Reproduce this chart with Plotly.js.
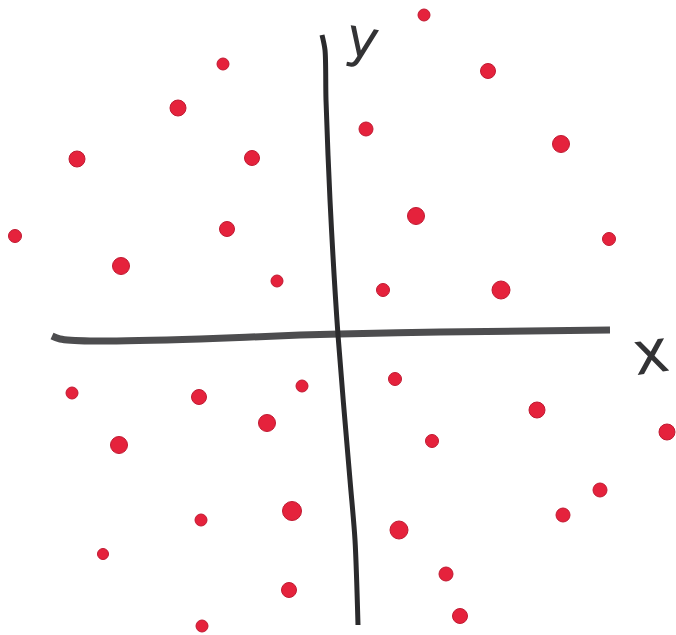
<!DOCTYPE html>
<html>
<head>
<meta charset="utf-8">
<script src="https://cdn.plot.ly/plotly-3.0.1.min.js"></script>
<style>html,body{margin:0;padding:0;background:#fff;}#chart{width:676px;height:635px;}</style>
</head>
<body>
<div id="chart"></div>
<script>
// Point values (x right, y up; origin at axes crossing)
const pointX = [84, 148, -117, -162, 26, 221, -263, -88, 76, -113, -325, 269, -219, -63, 43, 161,
  -268, -38, 55, -141, 197, -73, 327, -221, 92, 260, 223, -48, -139, 59, -237, 106, -51, 120, -138];
const pointY = [320, 264, 271, 227, 206, 191, 176, 177, 119, 106, 99, 96, 69, 54, 45, 45,
  -58, -51, -44, -62, -75, -88, -97, -110, -106, -155, -180, -176, -185, -195, -219, -239, -255, -281, -291];
const pointSize = [12, 15, 12, 16, 14, 17, 16, 15, 17, 15, 13, 13, 17, 12, 13, 18,
  12, 12, 13, 15, 16, 17, 16, 17, 13, 14, 14, 19, 12, 18, 11, 14, 15, 15, 12];

// Hand-drawn axis strokes
const xAxisX = [-288, -280, -250, -140, -40, 0, 100, 270];
const xAxisY = [-1, -4, -6, -4, 0, 1, 3, 5];
const yAxisX = [-18, -15, -14, -10, -2, 10, 15, 18];
const yAxisY = [300, 285, 235, 135, 0, -145, -205, -290];

const labelText = ['x', 'y'];

const traces = [
  {x: xAxisX, y: xAxisY, mode: 'lines', line: {color: '#4d4d4f', width: 7, shape: 'spline', smoothing: 0.8}, hoverinfo: 'skip'},
  {x: yAxisX, y: yAxisY, mode: 'lines', line: {color: '#2a2a2c', width: 5, shape: 'spline', smoothing: 0.8}, hoverinfo: 'skip'},
  {x: pointX, y: pointY, mode: 'markers',
   marker: {color: '#e5223c', opacity: 1, size: pointSize, line: {color: '#c01a32', width: 1}}, hoverinfo: 'skip'}
];

const layout = {
  width: 676, height: 635,
  margin: {l: 0, r: 0, t: 0, b: 0},
  paper_bgcolor: '#ffffff', plot_bgcolor: '#ffffff',
  showlegend: false,
  xaxis: {range: [-340, 336], visible: false, fixedrange: true},
  yaxis: {range: [-300, 335], visible: false, fixedrange: true},
  annotations: [
    {x: 311, y: -17, text: labelText[0], showarrow: false, textangle: -8,
     font: {family: 'DejaVu Sans', size: 60, color: '#333335'}},
    {x: 23, y: 297, text: labelText[1], showarrow: false, textangle: 10,
     font: {family: 'DejaVu Sans', size: 54, color: '#333335'}}
  ]
};

Plotly.newPlot('chart', traces, layout, {staticPlot: true, displayModeBar: false});
</script>
</body>
</html>
